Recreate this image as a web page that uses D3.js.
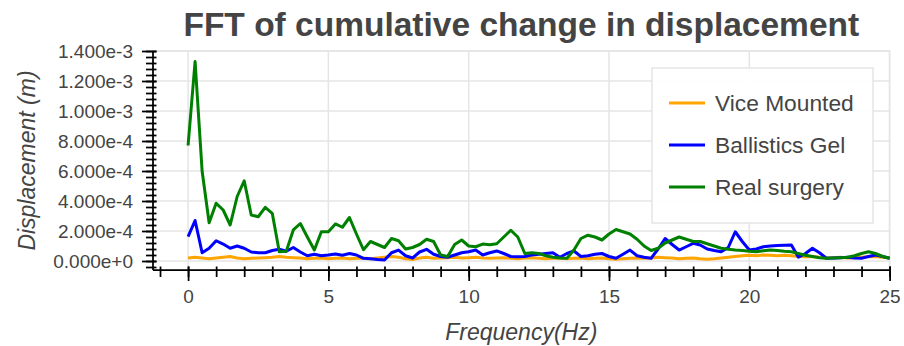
<!DOCTYPE html>
<html>
<head>
<meta charset="utf-8">
<script src="https://cdn.jsdelivr.net/npm/d3@7"></script>
<style>
  html, body { margin: 0; padding: 0; background: #ffffff; }
  svg { display: block; font-family: "Liberation Sans", Arial, Helvetica, sans-serif; }
</style>
</head>
<body>
<svg id="chart" width="904" height="346"></svg>
<script>
// ---- data (values in units of 1e-4 m, sampled every 0.25 Hz from 0 to 25 Hz) ----
const FREQ_STEP = 0.25;
const UNIT = 1e-4;

const viceMounted = [
  0.2, 0.25, 0.2, 0.15, 0.2, 0.25, 0.3, 0.2, 0.15, 0.18,
  0.2, 0.22, 0.25, 0.3, 0.25, 0.22, 0.2, 0.15, 0.18, 0.2,
  0.15, 0.18, 0.2, 0.15, 0.18, 0.2, 0.15, 0.2, 0.25, 0.3,
  0.25, 0.15, 0.1, 0.2, 0.25, 0.18, 0.2, 0.22, 0.25, 0.2,
  0.22, 0.25, 0.2, 0.18, 0.2, 0.22, 0.18, 0.15, 0.2, 0.22,
  0.18, 0.15, 0.18, 0.2, 0.15, 0.18, 0.2, 0.15, 0.18, 0.2,
  0.15, 0.12, 0.15, 0.18, 0.2, 0.18, 0.2, 0.25, 0.22, 0.2,
  0.15, 0.18, 0.2, 0.15, 0.12, 0.15, 0.2, 0.25, 0.3, 0.35,
  0.38, 0.35, 0.4, 0.38, 0.35, 0.38, 0.35, 0.3, 0.28, 0.3,
  0.25, 0.2, 0.22, 0.25, 0.2, 0.22, 0.25, 0.28, 0.3, 0.25,
  0.2
];

const ballisticsGel = [
  1.62, 2.7, 0.55, 0.85, 1.35, 1.13, 0.85, 1.0, 0.85, 0.6,
  0.55, 0.55, 0.7, 0.78, 0.65, 0.9, 0.6, 0.35, 0.45, 0.35,
  0.4, 0.47, 0.38, 0.5, 0.4, 0.18, 0.15, 0.1, 0.07, 0.55,
  0.73, 0.35, 0.2, 0.6, 0.78, 0.45, 0.3, 0.25, 0.4, 0.55,
  0.62, 0.73, 0.4, 0.55, 0.67, 0.5, 0.3, 0.28, 0.3, 0.4,
  0.45, 0.5, 0.55, 0.25, 0.5, 0.67, 0.3, 0.35, 0.45, 0.5,
  0.3, 0.18, 0.45, 0.73, 0.35, 0.25, 0.18, 0.8, 1.5, 1.1,
  0.73, 0.95, 1.18, 1.07, 0.8, 0.7, 0.62, 0.9, 1.95, 1.3,
  0.73, 0.8, 0.95, 1.0, 1.03, 1.05, 1.07, 0.25, 0.5, 0.85,
  0.55, 0.18, 0.2, 0.22, 0.25, 0.2, 0.18, 0.3, 0.4, 0.3,
  0.18
];

const realSurgery = [
  7.7, 13.3, 6.0, 2.55, 3.85, 3.4, 2.4, 4.3, 5.35, 3.07,
  2.95, 3.58, 3.18, 0.62, 0.65, 2.07, 2.5, 1.6, 0.73, 1.95,
  1.95, 2.47, 2.25, 2.9, 1.8, 0.75, 1.3, 1.1, 0.9, 1.5,
  1.35, 0.8, 0.9, 1.1, 1.45, 1.3, 0.4, 0.3, 1.1, 1.4,
  1.0, 0.95, 1.13, 1.08, 1.15, 1.6, 2.05, 1.6, 0.5, 0.55,
  0.5, 0.35, 0.25, 0.2, 0.18, 0.73, 1.5, 1.72, 1.6, 1.4,
  1.8, 2.1, 1.95, 1.8, 1.45, 1.0, 0.7, 0.85, 1.2, 1.4,
  1.6, 1.45, 1.3, 1.3, 1.15, 1.0, 0.85, 0.78, 0.73, 0.7,
  0.65, 0.62, 0.68, 0.73, 0.7, 0.65, 0.62, 0.5, 0.38, 0.3,
  0.22, 0.18, 0.2, 0.22, 0.25, 0.35, 0.5, 0.62, 0.5, 0.3,
  0.18
];

const seriesNames = ["Vice Mounted", "Ballistics Gel", "Real surgery"];
const seriesColors = ["orange", "blue", "green"];

const xTickValues = [0, 5, 10, 15, 20, 25];
const xTickLabels = ["0", "5", "10", "15", "20", "25"];
const yTickValues = [0, 2e-4, 4e-4, 6e-4, 8e-4, 1e-3, 1.2e-3, 1.4e-3];
const yTickLabels = ["0.000e+0", "2.000e-4", "4.000e-4", "6.000e-4", "8.000e-4", "1.000e-3", "1.200e-3", "1.400e-3"];

const titleText = "FFT of cumulative change in displacement";
const xLabelText = "Frequency(Hz)";
const yLabelText = "Displacement (m)";

// ---- layout ----
const frame = { left: 153, right: 889.6, top: 51, bottom: 270 };
const textColor = "#444444";
const gridColor = "#e5e5e5";

const svg = d3.select("#chart");

const x = d3.scaleLinear().domain([-1.25, 25]).range([frame.left, frame.right]);
const y = d3.scaleLinear().domain([-0.06e-3, 1.4e-3]).range([frame.bottom, frame.top]);

const allSeries = [viceMounted, ballisticsGel, realSurgery].map((vals, k) => ({
  name: seriesNames[k],
  color: seriesColors[k],
  points: vals.map((v, i) => ({ f: i * FREQ_STEP, v: v * UNIT }))
}));

// background
svg.append("rect").attr("x", 0).attr("y", 0).attr("width", 904).attr("height", 346).attr("fill", "#ffffff");

// grid
const grid = svg.append("g");
grid.selectAll("line.gx").data(xTickValues).join("line")
  .attr("x1", d => x(d)).attr("x2", d => x(d))
  .attr("y1", frame.top).attr("y2", frame.bottom)
  .attr("stroke", gridColor).attr("stroke-width", 1.5);
grid.selectAll("line.gy").data(yTickValues).join("line")
  .attr("x1", frame.left).attr("x2", frame.right)
  .attr("y1", d => y(d)).attr("y2", d => y(d))
  .attr("stroke", gridColor).attr("stroke-width", 1.5);
// outline
svg.append("rect")
  .attr("x", frame.left).attr("y", frame.top)
  .attr("width", frame.right - frame.left).attr("height", frame.bottom - frame.top)
  .attr("fill", "none").attr("stroke", gridColor).attr("stroke-width", 1.5);

// lines
const line = d3.line().x(d => x(d.f)).y(d => y(d.v));
const plot = svg.append("g");
allSeries.forEach(s => {
  plot.append("path")
    .datum(s.points)
    .attr("d", line)
    .attr("fill", "none")
    .attr("stroke", s.color)
    .attr("stroke-width", 3)
    .attr("stroke-linejoin", "round");
});

// ---- x axis ----
const xMinor = d3.range(-1, 26, 1).filter(v => x(v) >= frame.left - 0.5);
const xAxisG = svg.append("g").attr("transform", `translate(0,${frame.bottom})`);
const xAxisMinor = d3.axisBottom(x).tickValues(xMinor).tickSize(7).tickFormat("");
xAxisG.append("g").call(xAxisMinor).call(g => g.select(".domain").remove());
const xAxisMajor = d3.axisBottom(x).tickValues(xTickValues).tickSize(11).tickPadding(9)
  .tickFormat((d, i) => xTickLabels[i]);
xAxisG.append("g").call(xAxisMajor).call(g => g.select(".domain").remove());
xAxisG.selectAll(".tick line").attr("stroke", "#000").attr("stroke-width", 1.75);
xAxisG.selectAll("g > g > .tick line").each(function() {});
// major ticks extend inside a bit
xAxisG.selectAll("g:last-child .tick line").attr("y1", -3.5);
xAxisG.selectAll(".tick text").attr("fill", textColor).attr("font-size", 19)
  .attr("font-family", "Liberation Sans, Arial, sans-serif");
xAxisG.append("line").attr("x1", frame.left).attr("x2", frame.right).attr("y1", 0).attr("y2", 0)
  .attr("stroke", "#000").attr("stroke-width", 1.75);

// ---- y axis ----
const yMinor = d3.range(-4e-5, 1.4e-3 + 1e-9, 4e-5).filter(v => y(v) <= frame.bottom + 0.5 && y(v) >= frame.top - 0.5);
const yAxisG = svg.append("g").attr("transform", `translate(${frame.left},0)`);
const yAxisMinor = d3.axisLeft(y).tickValues(yMinor).tickSize(7).tickFormat("");
yAxisG.append("g").call(yAxisMinor).call(g => g.select(".domain").remove());
const yAxisMajor = d3.axisLeft(y).tickValues(yTickValues).tickSize(11).tickPadding(9)
  .tickFormat((d, i) => yTickLabels[i]);
yAxisG.append("g").call(yAxisMajor).call(g => g.select(".domain").remove());
yAxisG.selectAll(".tick line").attr("stroke", "#000").attr("stroke-width", 1.75);
yAxisG.selectAll("g:last-child .tick line").attr("x1", 3.5);
yAxisG.selectAll(".tick text").attr("fill", textColor).attr("font-size", 19)
  .attr("font-family", "Liberation Sans, Arial, sans-serif");
yAxisG.append("line").attr("x1", 0).attr("x2", 0).attr("y1", frame.top).attr("y2", frame.bottom)
  .attr("stroke", "#000").attr("stroke-width", 1.75);

// ---- labels ----
svg.append("text")
  .attr("x", (frame.left + frame.right) / 2).attr("y", 36)
  .attr("text-anchor", "middle")
  .attr("font-size", 33.5).attr("font-weight", "bold").attr("fill", textColor)
  .text(titleText);

svg.append("text")
  .attr("x", (frame.left + frame.right) / 2).attr("y", 340)
  .attr("text-anchor", "middle")
  .attr("font-size", 23).attr("font-style", "italic").attr("fill", textColor)
  .text(xLabelText);

svg.append("text")
  .attr("transform", `translate(35,${(frame.top + frame.bottom) / 2}) rotate(-90)`)
  .attr("text-anchor", "middle")
  .attr("font-size", 23).attr("font-style", "italic").attr("fill", textColor)
  .text(yLabelText);

// ---- legend ----
const legend = svg.append("g");
legend.append("rect")
  .attr("x", 652).attr("y", 68).attr("width", 221).attr("height", 155)
  .attr("fill", "#ffffff").attr("fill-opacity", 0.95)
  .attr("stroke", gridColor).attr("stroke-width", 1.5);
const rowY = d3.scalePoint().domain(seriesNames).range([103, 187]);
const items = legend.selectAll("g.item").data(allSeries).join("g")
  .attr("transform", d => `translate(0,${rowY(d.name)})`);
items.append("line")
  .attr("x1", 669).attr("x2", 705).attr("y1", 0).attr("y2", 0)
  .attr("stroke", d => d.color).attr("stroke-width", 3);
items.append("text")
  .attr("x", 715).attr("y", 0).attr("dy", "0.35em")
  .attr("font-size", 22.75).attr("fill", textColor)
  .text(d => d.name);
</script>
</body>
</html>
